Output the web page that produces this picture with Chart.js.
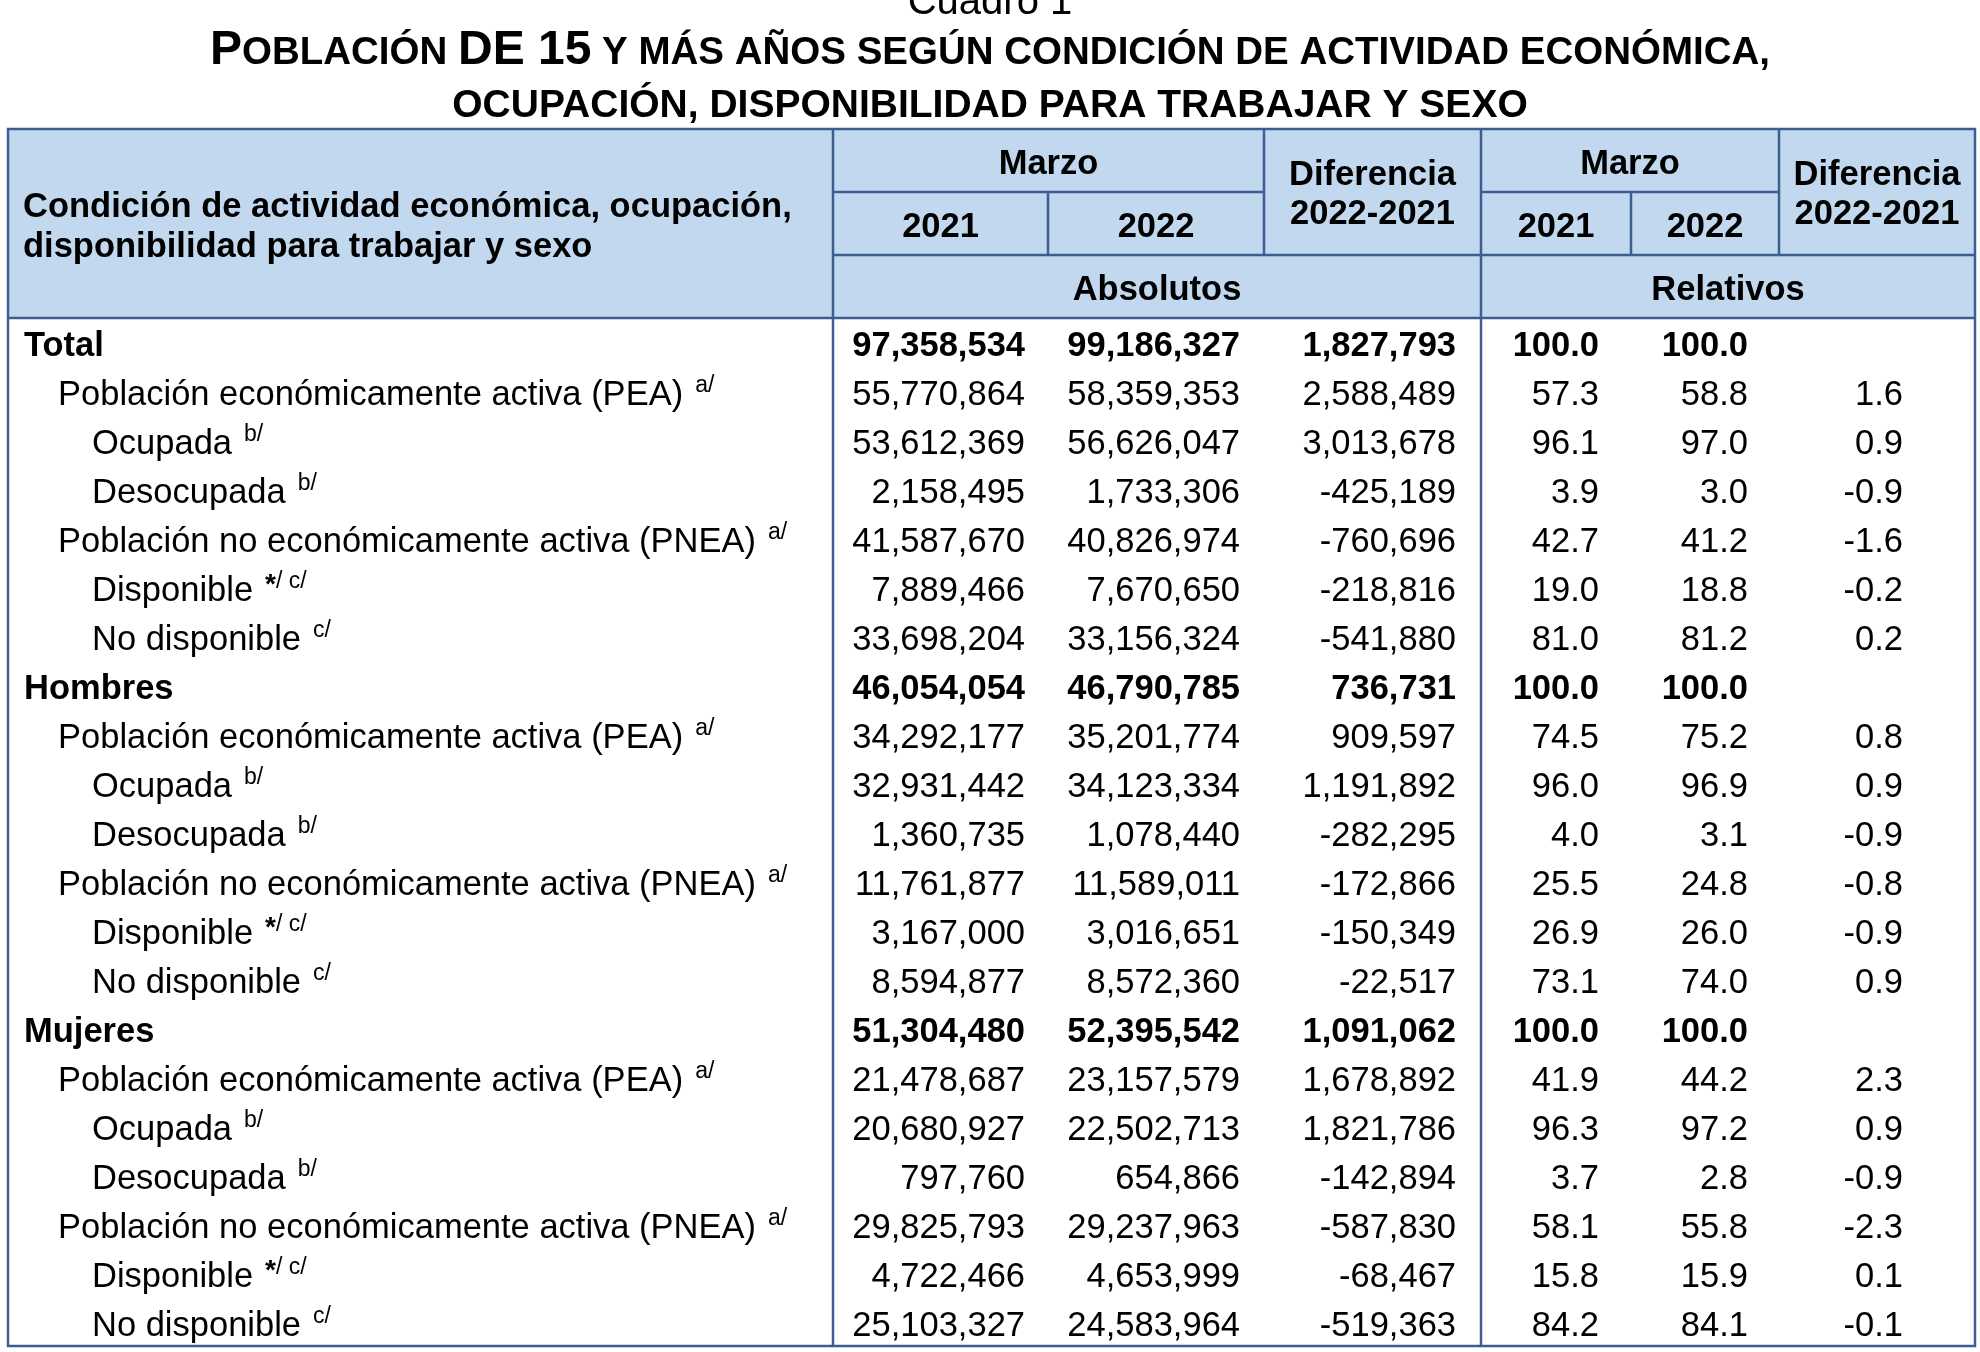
<!DOCTYPE html>
<html lang="es">
<head>
<meta charset="utf-8">
<title>Cuadro 1</title>
<script src="https://cdn.jsdelivr.net/npm/chart.js@4.4.1/dist/chart.umd.min.js"></script>
<style>
  html, body { margin: 0; padding: 0; background: #fff; }
  canvas { display: block; }
</style>
</head>
<body>
<canvas id="tabla" width="1980" height="1352"></canvas>
<script>
// =========================================
// CUADRO 1 - tabla dibujada con Chart.js
// =========================================

// ---- datos ----
const rowLabels = [
    "Total",
    "Población económicamente activa (PEA)",
    "Ocupada",
    "Desocupada",
    "Población no económicamente activa (PNEA)",
    "Disponible",
    "No disponible",
    "Hombres",
    "Población económicamente activa (PEA)",
    "Ocupada",
    "Desocupada",
    "Población no económicamente activa (PNEA)",
    "Disponible",
    "No disponible",
    "Mujeres",
    "Población económicamente activa (PEA)",
    "Ocupada",
    "Desocupada",
    "Población no económicamente activa (PNEA)",
    "Disponible",
    "No disponible"
];
const rowLevels = [0, 1, 2, 2, 1, 2, 2, 0, 1, 2, 2, 1, 2, 2, 0, 1, 2, 2, 1, 2, 2];
const rowNotes = ["", "a/", "b/", "b/", "a/", "*/ c/", "c/",
                  "", "a/", "b/", "b/", "a/", "*/ c/", "c/",
                  "", "a/", "b/", "b/", "a/", "*/ c/", "c/"];

const abs2021 = [97358534, 55770864, 53612369, 2158495, 41587670, 7889466, 33698204,
                 46054054, 34292177, 32931442, 1360735, 11761877, 3167000, 8594877,
                 51304480, 21478687, 20680927, 797760, 29825793, 4722466, 25103327];
const abs2022 = [99186327, 58359353, 56626047, 1733306, 40826974, 7670650, 33156324,
                 46790785, 35201774, 34123334, 1078440, 11589011, 3016651, 8572360,
                 52395542, 23157579, 22502713, 654866, 29237963, 4653999, 24583964];
const absDiff = [1827793, 2588489, 3013678, -425189, -760696, -218816, -541880,
                 736731, 909597, 1191892, -282295, -172866, -150349, -22517,
                 1091062, 1678892, 1821786, -142894, -587830, -68467, -519363];
const rel2021 = [100.0, 57.3, 96.1, 3.9, 42.7, 19.0, 81.0,
                 100.0, 74.5, 96.0, 4.0, 25.5, 26.9, 73.1,
                 100.0, 41.9, 96.3, 3.7, 58.1, 15.8, 84.2];
const rel2022 = [100.0, 58.8, 97.0, 3.0, 41.2, 18.8, 81.2,
                 100.0, 75.2, 96.9, 3.1, 24.8, 26.0, 74.0,
                 100.0, 44.2, 97.2, 2.8, 55.8, 15.9, 84.1];
const relDiff = [null, 1.6, 0.9, -0.9, -1.6, -0.2, 0.2,
                 null, 0.8, 0.9, -0.9, -0.8, -0.9, 0.9,
                 null, 2.3, 0.9, -0.9, -2.3, 0.1, -0.1];

const titleTop = "Cuadro 1";
const titleLine2 = "OCUPACIÓN, DISPONIBILIDAD PARA TRABAJAR Y SEXO";
const headLabel = ["Condición de actividad económica, ocupación,", "disponibilidad para trabajar y sexo"];
const headYears = ["2021", "2022"];

// ---- estilo / disposición ----
const FONT = "'Liberation Sans', Arial, Helvetica, sans-serif";
const BORDER = "#3d5d93";
const HEAD_FILL = "#c1d8ee";
const HEAD_ROW = 63;
const colWidths = [825, 215, 216, 217, 150, 148, 196];
const colPadRight = [0, 23, 24, 25, 32, 31, 72];
const indentByLevel = [16, 50, 84];

const colEdges = colWidths.reduce((acc, w) => { acc.push(acc[acc.length - 1] + w); return acc; }, [0]);

const fmtAbs = v => v.toLocaleString("en-US");
const fmtRel = v => (v === null ? "" : v.toFixed(1));

const valueCols = [abs2021, abs2022, absDiff, rel2021, rel2022, relDiff];
const valueFmts = [fmtAbs, fmtAbs, fmtAbs, fmtRel, fmtRel, fmtRel];

// one dataset per column; each point is a cell
const datasets = [{
    label: "Condición",
    data: rowLabels.map((_, i) => ({ x: indentByLevel[rowLevels[i]], y: i })),
    pointRadius: 0
}].concat(valueCols.map((vals, c) => ({
    label: "col" + c,
    data: vals.map((_, i) => ({ x: colEdges[c + 2] - colPadRight[c + 1], y: i })),
    pointRadius: 0
})));

function cellText(dsIndex, i) {
    if (dsIndex === 0) return rowLabels[i];
    return valueFmts[dsIndex - 1](valueCols[dsIndex - 1][i]);
}

function line(ctx, x1, y1, x2, y2) {
    ctx.beginPath();
    ctx.moveTo(x1, y1);
    ctx.lineTo(x2, y2);
    ctx.stroke();
}

const tablePlugin = {
    id: "tabla",
    beforeDraw(chart) {
        const ctx = chart.ctx;
        const { top, left, right } = chart.chartArea;
        const xs = chart.scales.x;
        const X = k => xs.getPixelForValue(colEdges[k]);
        const cx = chart.width / 2;

        ctx.save();
        ctx.fillStyle = "#fff";
        ctx.fillRect(0, 0, chart.width, chart.height);

        // title
        ctx.fillStyle = "#000";
        ctx.textAlign = "center";
        ctx.textBaseline = "alphabetic";
        ctx.font = "40px " + FONT;
        ctx.fillText(titleTop, cx, 14);

        const segs = [
            { t: "P", s: 48 }, { t: "OBLACIÓN ", s: 38.5 }, { t: "DE 15", s: 48 },
            { t: " Y MÁS AÑOS SEGÚN CONDICIÓN DE ACTIVIDAD ECONÓMICA,", s: 38.5 }
        ];
        let total = 0;
        segs.forEach(sg => { ctx.font = "bold " + sg.s + "px " + FONT; sg.w = ctx.measureText(sg.t).width; total += sg.w; });
        let sx = cx - total / 2;
        ctx.textAlign = "left";
        segs.forEach(sg => { ctx.font = "bold " + sg.s + "px " + FONT; ctx.fillText(sg.t, sx, 64); sx += sg.w; });
        ctx.textAlign = "center";
        ctx.font = "bold 39px " + FONT;
        ctx.fillText(titleLine2, cx, 117);

        // header fill
        const hTop = top - 3 * HEAD_ROW;
        ctx.fillStyle = HEAD_FILL;
        ctx.fillRect(left, hTop, right - left, 3 * HEAD_ROW);

        // header lines
        ctx.strokeStyle = BORDER;
        ctx.lineWidth = 2.5;
        line(ctx, X(1), hTop + HEAD_ROW, X(3), hTop + HEAD_ROW);
        line(ctx, X(4), hTop + HEAD_ROW, X(6), hTop + HEAD_ROW);
        line(ctx, X(1), hTop + 2 * HEAD_ROW, right, hTop + 2 * HEAD_ROW);
        line(ctx, left, top, right, top);
        line(ctx, X(2), hTop + HEAD_ROW, X(2), hTop + 2 * HEAD_ROW);
        line(ctx, X(5), hTop + HEAD_ROW, X(5), hTop + 2 * HEAD_ROW);
        line(ctx, X(3), hTop, X(3), hTop + 2 * HEAD_ROW);
        line(ctx, X(6), hTop, X(6), hTop + 2 * HEAD_ROW);
        line(ctx, X(1), hTop, X(1), top);
        line(ctx, X(4), hTop, X(4), top);

        // header text
        ctx.fillStyle = "#000";
        ctx.font = "bold 34.5px " + FONT;
        ctx.textAlign = "left";
        ctx.fillText(headLabel[0], left + 15, hTop + 88);
        ctx.fillText(headLabel[1], left + 15, hTop + 128);

        ctx.textAlign = "center";
        const mid = (a, b) => (X(a) + X(b)) / 2;
        ctx.fillText("Marzo", mid(1, 3), hTop + 45);
        ctx.fillText("Marzo", mid(4, 6), hTop + 45);
        ctx.fillText(headYears[0], mid(1, 2), hTop + HEAD_ROW + 45);
        ctx.fillText(headYears[1], mid(2, 3), hTop + HEAD_ROW + 45);
        ctx.fillText(headYears[0], mid(4, 5), hTop + HEAD_ROW + 45);
        ctx.fillText(headYears[1], mid(5, 6), hTop + HEAD_ROW + 45);
        [[3, 4], [6, 7]].forEach(([a, b]) => {
            ctx.fillText("Diferencia", mid(a, b), hTop + 56);
            ctx.fillText("2022-2021", mid(a, b), hTop + 95);
        });
        ctx.fillText("Absolutos", mid(1, 4), hTop + 2 * HEAD_ROW + 45);
        ctx.fillText("Relativos", mid(4, 7), hTop + 2 * HEAD_ROW + 45);
        ctx.restore();
    },
    afterDatasetsDraw(chart) {
        const ctx = chart.ctx;
        const { top, bottom, left, right } = chart.chartArea;
        const xs = chart.scales.x;
        const X = k => xs.getPixelForValue(colEdges[k]);

        ctx.save();
        ctx.fillStyle = "#000";
        ctx.textBaseline = "alphabetic";
        chart.data.datasets.forEach((ds, d) => {
            const meta = chart.getDatasetMeta(d);
            meta.data.forEach((pt, i) => {
                const bold = rowLevels[i] === 0;
                const by = pt.y + 14;
                ctx.font = (bold ? "bold " : "") + "34.5px " + FONT;
                const txt = cellText(d, i);
                if (d === 0) {
                    ctx.textAlign = "left";
                    ctx.fillText(txt, pt.x, by);
                    const note = rowNotes[i];
                    if (note) {
                        let nx = pt.x + ctx.measureText(txt).width + 12;
                        if (note.startsWith("*")) {
                            ctx.font = "bold 28px " + FONT;
                            ctx.fillText("*", nx, by - 8);
                            nx += ctx.measureText("*").width;
                            ctx.font = "23px " + FONT;
                            ctx.fillText(note.slice(1), nx, by - 13);
                        } else {
                            ctx.font = "23px " + FONT;
                            ctx.fillText(note, nx, by - 13);
                        }
                    }
                } else {
                    ctx.textAlign = "right";
                    ctx.fillText(txt, pt.x, by);
                }
            });
        });

        // body borders
        ctx.strokeStyle = BORDER;
        ctx.lineWidth = 2.5;
        line(ctx, X(1), top, X(1), bottom);
        line(ctx, X(4), top, X(4), bottom);
        ctx.strokeRect(left, top - 3 * HEAD_ROW, right - left, bottom - top + 3 * HEAD_ROW);
        ctx.restore();
    }
};

new Chart(document.getElementById("tabla"), {
    type: "scatter",
    data: { datasets: datasets },
    options: {
        responsive: false,
        devicePixelRatio: 1,
        animation: false,
        events: [],
        layout: { padding: { left: 8, right: 5, top: 318, bottom: 6 } },
        plugins: { legend: { display: false }, tooltip: { enabled: false } },
        scales: {
            x: { type: "linear", min: 0, max: colEdges[colEdges.length - 1], display: false },
            y: { type: "category", labels: rowLabels.map((l, i) => i + " " + l), offset: true, display: false }
        }
    },
    plugins: [tablePlugin]
});
</script>
</body>
</html>
